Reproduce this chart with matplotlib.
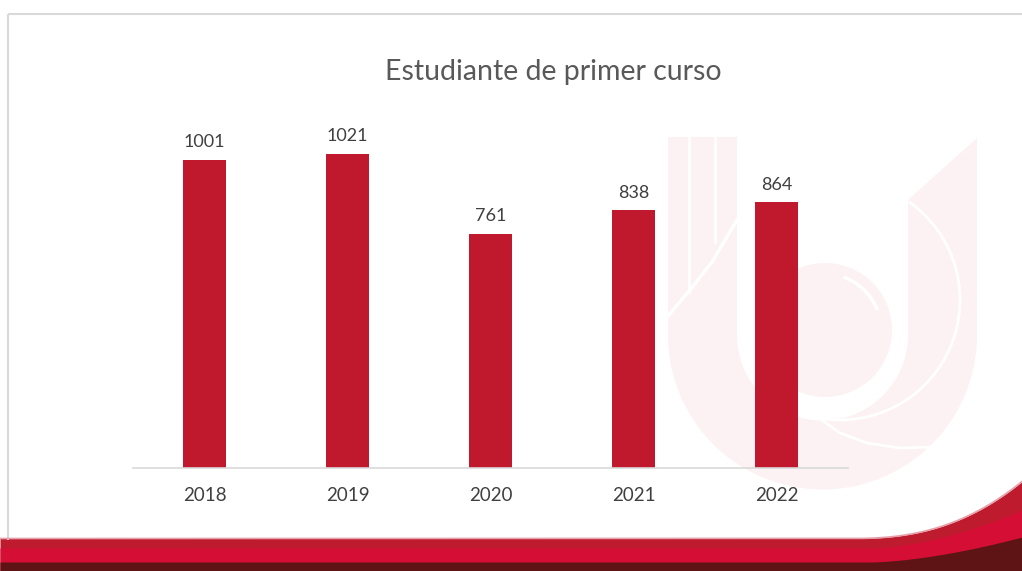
import numpy as np
import matplotlib
matplotlib.use("Agg")
import matplotlib.pyplot as plt
from matplotlib.patches import Polygon, Circle, Arc

# datos
anios = ["2018", "2019", "2020", "2021", "2022"]
estudiantes = [1001, 1021, 761, 838, 864]
titulo = "Estudiante de primer curso"

rojo_barra = "#C0182D"
rosa_logo = "#FCF2F3"
W, H = 1022, 571

plt.rcParams['font.family'] = ['Lato', 'DejaVu Sans']

fig = plt.figure(figsize=(W / 100, H / 100), dpi=100)
fig.patch.set_facecolor("white")

# fondo en pixeles (logo, marco y franja inferior)
bg = fig.add_axes([0, 0, 1, 1], zorder=0)
bg.set_xlim(0, W)
bg.set_ylim(H, 0)
bg.axis("off")

# marco gris
bg.plot([8, W], [14, 14], color="#D9D9D9", lw=1.5, solid_capstyle="butt")
bg.plot([8, 8], [14, 540], color="#D9D9D9", lw=1.5, solid_capstyle="butt")

# logo de fondo (U con circulo)
cx, cy = 822.5, 335
r_ext, r_int = 154.5, 85.5
t = np.linspace(np.pi, 0, 80)
ext = np.column_stack([cx + r_ext * np.cos(t), cy + r_ext * np.sin(t)])
t2 = np.linspace(0, np.pi, 80)
inn = np.column_stack([cx + r_int * np.cos(t2), cy + r_int * np.sin(t2)])
pts = np.vstack([[[668, 137]], ext, [[977, 138], [908, 200]], inn, [[737, 137]]])
bg.add_patch(Polygon(pts, closed=True, facecolor=rosa_logo, edgecolor="none"))
bg.add_patch(Circle((825, 330), 67, facecolor=rosa_logo, edgecolor="none"))

# lineas blancas del logo
bg.plot([688.5, 688.5], [137, 292], color="white", lw=2)
bg.plot([715, 715], [137, 242], color="white", lw=2)
bg.plot([668, 690, 712, 737], [316, 290, 262, 220], color="white", lw=2.5)
bg.add_patch(Arc((840, 300), 240, 240, theta1=-55, theta2=100, color="white", lw=2))
bg.add_patch(Arc((825, 330), 112, 112, theta1=-71, theta2=-21, color="white", lw=2.5))
bg.plot([812, 840, 867, 900, 930], [413, 433, 443, 448, 447], color="white", lw=2)

# franja roja inferior
x = np.linspace(0, W, 400)


def borde(base, subida, x0, p):
    u = np.clip((x - x0) / (W - x0), 0, 1)
    return base - subida * u ** p


y1 = borde(538.5, 57, 850, 2.45)
y2 = borde(548, 38, 870, 1.7)
y3 = borde(562, 25, 870, 1.6)
bg.fill_between(x, y1, H, color="#BE1B2E", lw=0)
bg.plot(x, y1, color="#E7A0AA", lw=1.2)
bg.fill_between(x, y2, H, color="#D40E35", lw=0)
bg.fill_between(x, y3, H, color="#5E1414", lw=0)

# grafico de barras
ax = fig.add_axes([133 / W, 1 - 468 / H, 715 / W, 369 / H], zorder=1)
ax.patch.set_visible(False)
pos = np.arange(len(anios))
barras = ax.bar(pos, estudiantes, width=0.3, color=rojo_barra, zorder=2)
ax.bar_label(barras, labels=[str(v) for v in estudiantes], padding=7,
             fontsize=13, color="#404040")
ax.set_xlim(-0.5, len(anios) - 0.5)
ax.set_ylim(0, 1200)
ax.set_xticks(pos)
ax.set_xticklabels(anios, fontsize=13.5, color="#404040")
ax.tick_params(axis="x", length=0, pad=14)
ax.set_yticks([])
for lado in ["left", "right", "top"]:
    ax.spines[lado].set_visible(False)
ax.spines["bottom"].set_color("#D9D9D9")
ax.spines["bottom"].set_linewidth(1.2)

fig.text(553 / W, 1 - 72 / H, titulo, ha="center", va="center",
         fontsize=20.5, color="#595959")

fig.savefig("out.png", dpi=100)
